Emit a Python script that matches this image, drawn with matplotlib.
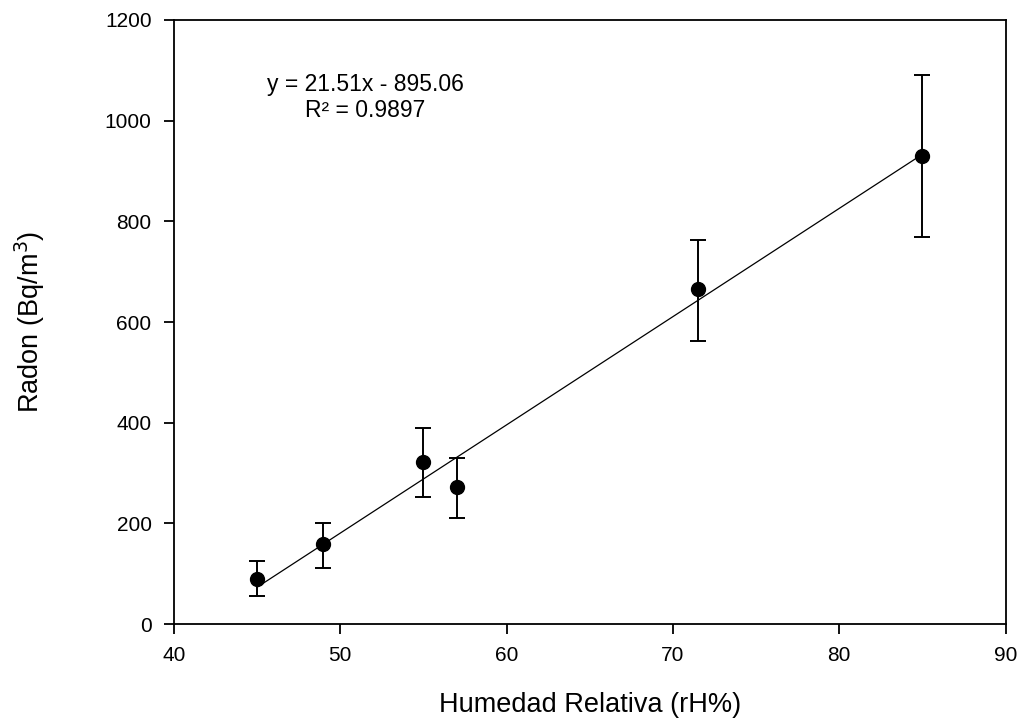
import matplotlib.pyplot as plt
import numpy as np

plt.rcParams['font.family'] = ['Liberation Sans', 'DejaVu Sans']

# data
humedad = [45, 49, 55, 57, 71.5, 85]
radon = [90, 159, 322, 272, 666, 930]
err_low = [35, 48, 70, 61, 104, 161]
err_high = [35, 41, 67, 58, 97, 161]

slope = 21.51
intercept = -895.06
r2 = 0.9897

fig = plt.figure(figsize=(10.22, 7.22), dpi=100)
ax = fig.add_axes([0.170, 0.1357, 0.814, 0.8366])

xfit = np.array([min(humedad), max(humedad)])
ax.plot(xfit, slope * xfit + intercept, color='black', lw=0.9, zorder=2)
ax.errorbar(humedad, radon, yerr=[err_low, err_high], fmt='o', color='black',
            ms=10, elinewidth=1.4, capsize=6, capthick=1.4, zorder=3)

ax.text(51.5, 1071, 'y = 21.51x - 895.06', ha='center', va='center', fontsize=16.5)
ax.text(51.5, 1021, 'R² = %.4f' % r2, ha='center', va='center', fontsize=16.5)

ax.set_xlim(40, 90)
ax.set_ylim(0, 1200)
ax.set_xticks(range(40, 91, 10))
ax.set_yticks(range(0, 1201, 200))
ax.tick_params(direction='out', length=7, width=1.3, labelsize=15, pad=9, color='black')
for s in ax.spines.values():
    s.set_linewidth(1.3)

ax.set_xlabel('Humedad Relativa (rH%)', fontsize=19.5)
ax.set_ylabel('Radon (Bq/m$^3$)', fontsize=19.5)
ax.xaxis.set_label_coords(0.5, -0.113)
ax.yaxis.set_label_coords(-0.152, 0.5)

fig.savefig('out.png', dpi=100)
